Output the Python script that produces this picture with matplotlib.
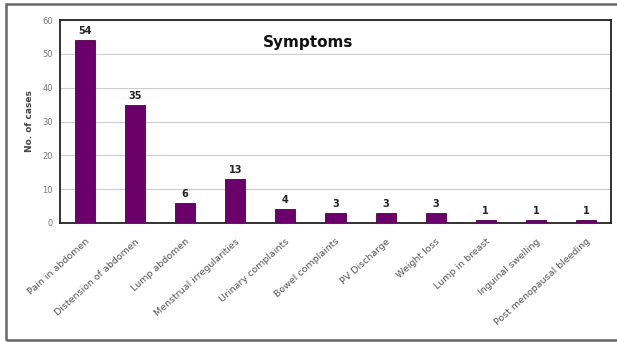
import matplotlib.pyplot as plt
from matplotlib.patches import Rectangle

categories = ["Pain in abdomen", "Distension of abdomen", "Lump abdomen",
              "Menstrual irregularities", "Urinary complaints", "Bowel complaints",
              "PV Discharge", "Weight loss", "Lump in breast", "Inguinal swelling",
              "Post menopausal bleeding"]
cases = [54, 35, 6, 13, 4, 3, 3, 3, 1, 1, 1]
yticks = [0, 10, 20, 30, 40, 50, 60]

BAR_COLOR = "#6b006b"

fig = plt.figure(figsize=(6.17, 3.42), dpi=100)
ax = fig.add_axes([60 / 617, 1 - 223 / 342, 551 / 617, 203 / 342])

x = range(len(categories))
ax.bar(x, cases, width=0.4, color=BAR_COLOR, edgecolor="#4a004a", linewidth=0.6, zorder=3)
for xi, v in zip(x, cases):
    ax.text(xi, v + 1.2, str(v), ha="center", va="bottom", fontsize=7,
            fontweight="bold", color="#222222")

ax.set_xlim(-0.5, len(categories) - 0.5)
ax.set_ylim(0, 60)
ax.set_yticks(yticks)
ax.set_yticklabels([str(t) for t in yticks], fontsize=6, color="#777777")
ax.set_xticks(list(x))
ax.set_xticklabels(categories, rotation=42, ha="right", rotation_mode="anchor",
                   fontsize=6.8, color="#555555")
ax.tick_params(axis="x", length=0, pad=10)
ax.tick_params(axis="y", length=0, pad=5)
ax.grid(axis="y", color="#cccccc", linewidth=0.8, zorder=0)
for s in ax.spines.values():
    s.set_linewidth(1.3)
    s.set_color("#222222")
ax.set_ylabel("No. of cases", fontsize=6.5, fontweight="bold", color="#444444", labelpad=6)
ax.text(0.45, 0.89, "Symptoms", transform=ax.transAxes, ha="center", va="center",
        fontsize=11, fontweight="bold", color="#111111")

# outer chart frame (right side runs off the image)
fig.patches.append(Rectangle((6 / 617, 2 / 342), 620 / 617, 336 / 342,
                             transform=fig.transFigure, fill=False,
                             edgecolor="#666666", linewidth=1.8))

fig.savefig("out.png", dpi=100)
